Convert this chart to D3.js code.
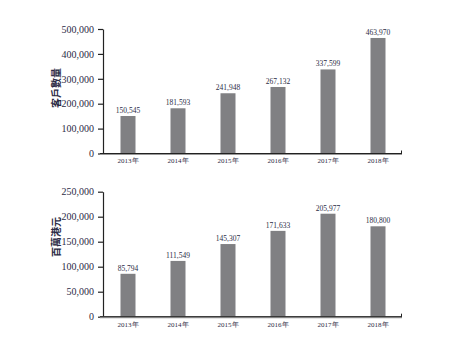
<!DOCTYPE html>
<html>
<head>
<meta charset="utf-8">
<script src="https://cdn.jsdelivr.net/npm/d3@7/dist/d3.min.js"></script>
<style>
  body { margin: 0; background: #fff; }
  svg { display: block; }
</style>
</head>
<body>
<svg id="chart" width="454" height="340"></svg>
<script>
// Customer count and revenue by year
const years = ["2013年", "2014年", "2015年", "2016年", "2017年", "2018年"];
const customers = [150545, 181593, 241948, 267132, 337599, 463970];
const revenue = [85794, 111549, 145307, 171633, 205977, 180800];
const customerTicks = [0, 100000, 200000, 300000, 400000, 500000];
const revenueTicks = [0, 50000, 100000, 150000, 200000, 250000];

const svg = d3.select("#chart");
const fmt = d3.format(",");
const serif = "'Liberation Serif', 'DejaVu Serif', serif";
const textColor = "#2b2b45";
const barColor = "#808083";

function panel(opts) {
  const g = svg.append("g");
  const x = d3.scaleBand()
    .domain(years)
    .range([103, 403])
    .paddingInner(0.7)
    .paddingOuter(0.35);
  const y = d3.scaleLinear()
    .domain([0, opts.max])
    .range([opts.bottom, opts.top]);

  // bars
  g.selectAll("rect.bar")
    .data(opts.values)
    .join("rect")
    .attr("class", "bar")
    .attr("x", (d, i) => x(years[i]))
    .attr("width", x.bandwidth())
    .attr("y", d => y(d))
    .attr("height", d => y(0) - y(d))
    .attr("fill", barColor);

  // value labels
  g.selectAll("text.val")
    .data(opts.values)
    .join("text")
    .attr("class", "val")
    .attr("x", (d, i) => x(years[i]) + x.bandwidth() / 2)
    .attr("y", d => y(d) - 3)
    .attr("text-anchor", "middle")
    .attr("font-family", serif)
    .attr("font-size", 7.5)
    .attr("fill", textColor)
    .text(d => fmt(d));

  // y axis
  const yAxis = g.append("g")
    .attr("transform", "translate(103,0)")
    .call(d3.axisLeft(y).tickValues(opts.ticks).tickSize(5).tickSizeOuter(0).tickPadding(4).tickFormat(fmt));
  yAxis.select(".domain").attr("stroke", "#222").attr("stroke-width", 1.2);
  yAxis.selectAll(".tick line").attr("stroke", "#222").attr("stroke-width", 1.2);
  yAxis.selectAll(".tick text")
    .attr("font-family", serif)
    .attr("font-size", 10)
    .attr("fill", textColor);

  // x axis
  const xAxis = g.append("g")
    .attr("transform", `translate(0,${opts.bottom})`)
    .call(d3.axisBottom(x).tickSize(0).tickPadding(5));
  xAxis.select(".domain").remove();
  g.append("line")
    .attr("x1", 100).attr("x2", 402)
    .attr("y1", opts.bottom + 0.5).attr("y2", opts.bottom + 0.5)
    .attr("stroke", "#999").attr("stroke-width", 2);
  g.append("line")
    .attr("x1", 100).attr("x2", 402)
    .attr("y1", opts.bottom).attr("y2", opts.bottom)
    .attr("stroke", "#222").attr("stroke-width", 1);
  g.append("line")
    .attr("x1", 401.5).attr("x2", 401.5)
    .attr("y1", opts.bottom).attr("y2", opts.bottom - 3)
    .attr("stroke", "#222").attr("stroke-width", 1);
  xAxis.selectAll(".tick text")
    .attr("font-family", serif)
    .attr("font-size", 7)
    .attr("fill", textColor);

  // axis title
  g.append("text")
    .attr("transform", `translate(57,${opts.titleY}) rotate(-90)`)
    .attr("text-anchor", "middle")
    .attr("dominant-baseline", "middle")
    .attr("font-family", "'Noto Sans CJK TC', sans-serif")
    .attr("font-weight", "bold")
    .attr("font-size", 10)
    .attr("fill", textColor)
    .text(opts.title);
}

panel({ values: customers, ticks: customerTicks, max: 500000, top: 29, bottom: 153.5, title: "客戶數量", titleY: 88 });
panel({ values: revenue, ticks: revenueTicks, max: 250000, top: 191.7, bottom: 316.7, title: "百萬港元", titleY: 237 });
</script>
</body>
</html>
